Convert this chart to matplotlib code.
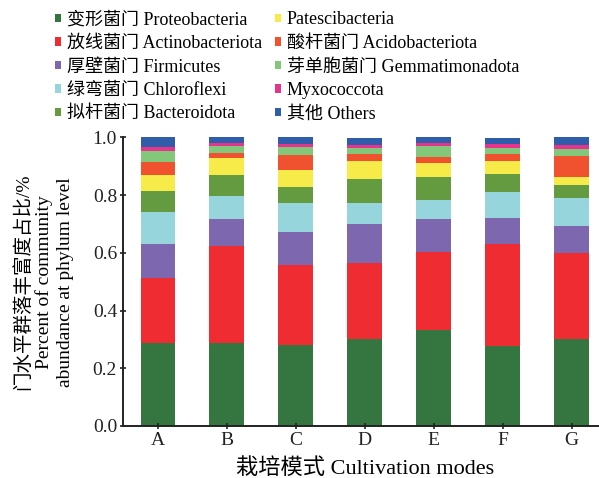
import numpy as np
import matplotlib
matplotlib.use("Agg")
import matplotlib.pyplot as plt
from matplotlib import font_manager as fm
from matplotlib.patches import Patch

names = set(f.name for f in fm.fontManager.ttflist)
serif = 'Liberation Serif' if 'Liberation Serif' in names else 'DejaVu Serif'
plt.rcParams['font.family'] = [serif, 'Noto Sans CJK SC']

modes = ['A', 'B', 'C', 'D', 'E', 'F', 'G']
phyla = ['变形菌门 Proteobacteria', '放线菌门 Actinobacteriota', '厚壁菌门 Firmicutes',
         '绿弯菌门 Chloroflexi', '拟杆菌门 Bacteroidota', 'Patescibacteria',
         '酸杆菌门 Acidobacteriota', '芽单胞菌门 Gemmatimonadota', 'Myxococcota', '其他 Others']
colors = ['#35753f', '#ee2c32', '#7d68af', '#97d5dd', '#659b40',
          '#f6eb48', '#f0512e', '#82c77a', '#e8338d', '#2f5daa']

# relative abundance per mode, stacked bottom -> top
proteo = [0.287, 0.289, 0.281, 0.301, 0.333, 0.276, 0.300]
actino = [0.227, 0.336, 0.276, 0.262, 0.271, 0.354, 0.300]
firmi = [0.116, 0.092, 0.114, 0.135, 0.114, 0.089, 0.093]
chloro = [0.112, 0.080, 0.101, 0.073, 0.065, 0.093, 0.096]
bactero = [0.072, 0.072, 0.056, 0.084, 0.081, 0.060, 0.045]
patesci = [0.055, 0.059, 0.060, 0.063, 0.047, 0.046, 0.029]
acido = [0.046, 0.019, 0.051, 0.025, 0.020, 0.023, 0.071]
gemma = [0.038, 0.022, 0.027, 0.021, 0.038, 0.023, 0.024]
myxo = [0.014, 0.010, 0.009, 0.009, 0.010, 0.014, 0.016]
others = [0.033, 0.021, 0.026, 0.026, 0.021, 0.021, 0.026]

series = [proteo, actino, firmi, chloro, bactero, patesci, acido, gemma, myxo, others]

fig = plt.figure(figsize=(5.99, 4.78), dpi=100)
ax = fig.add_axes([0.2058, 0.1088, 0.806, 0.604])

x = np.arange(len(modes))
bottom = np.zeros(len(modes))
for vals, c in zip(series, colors):
    ax.bar(x, vals, 0.5, bottom=bottom, color=c, edgecolor='none')
    bottom += np.array(vals)

ax.set_xlim(-0.5, 6.5)
ax.set_ylim(0, 1.0)
ax.set_xticks(x)
ax.set_xticklabels(modes)
ax.set_yticks([0, 0.2, 0.4, 0.6, 0.8, 1.0])
ax.set_yticklabels(['0.0', '0.2', '0.4', '0.6', '0.8', '1.0'])
ax.tick_params(labelsize=14, direction='inout', length=5, width=1.2, colors='#222222', pad=2)
for s in ['top', 'right']:
    ax.spines[s].set_visible(False)
for s in ['left', 'bottom']:
    ax.spines[s].set_linewidth(1.4)
    ax.spines[s].set_color('#222222')

ax.set_xlabel('栽培模式 Cultivation modes', fontsize=16, labelpad=2)
ax.xaxis.set_label_coords(0.5, -0.112)
fig.text(0.0726, 0.41, '门水平群落丰富度占比/%\nPercent of community\nabundance at phylum level',
         rotation=90, ha='center', va='center', multialignment='center',
         fontsize=14, linespacing=1.25)

handles = [Patch(facecolor=c, edgecolor='none') for c in colors]
leg_kw = dict(loc='upper left', frameon=False, fontsize=13, handlelength=0.35,
              handleheight=0.35, handletextpad=0.3, labelspacing=0.36,
              borderaxespad=0, borderpad=0)
fig.legend(handles[:5], phyla[:5], bbox_to_anchor=(0.092, 0.976), **leg_kw)
fig.legend(handles[5:], phyla[5:], bbox_to_anchor=(0.459, 0.976), **leg_kw)

fig.savefig('out.png', dpi=100)
